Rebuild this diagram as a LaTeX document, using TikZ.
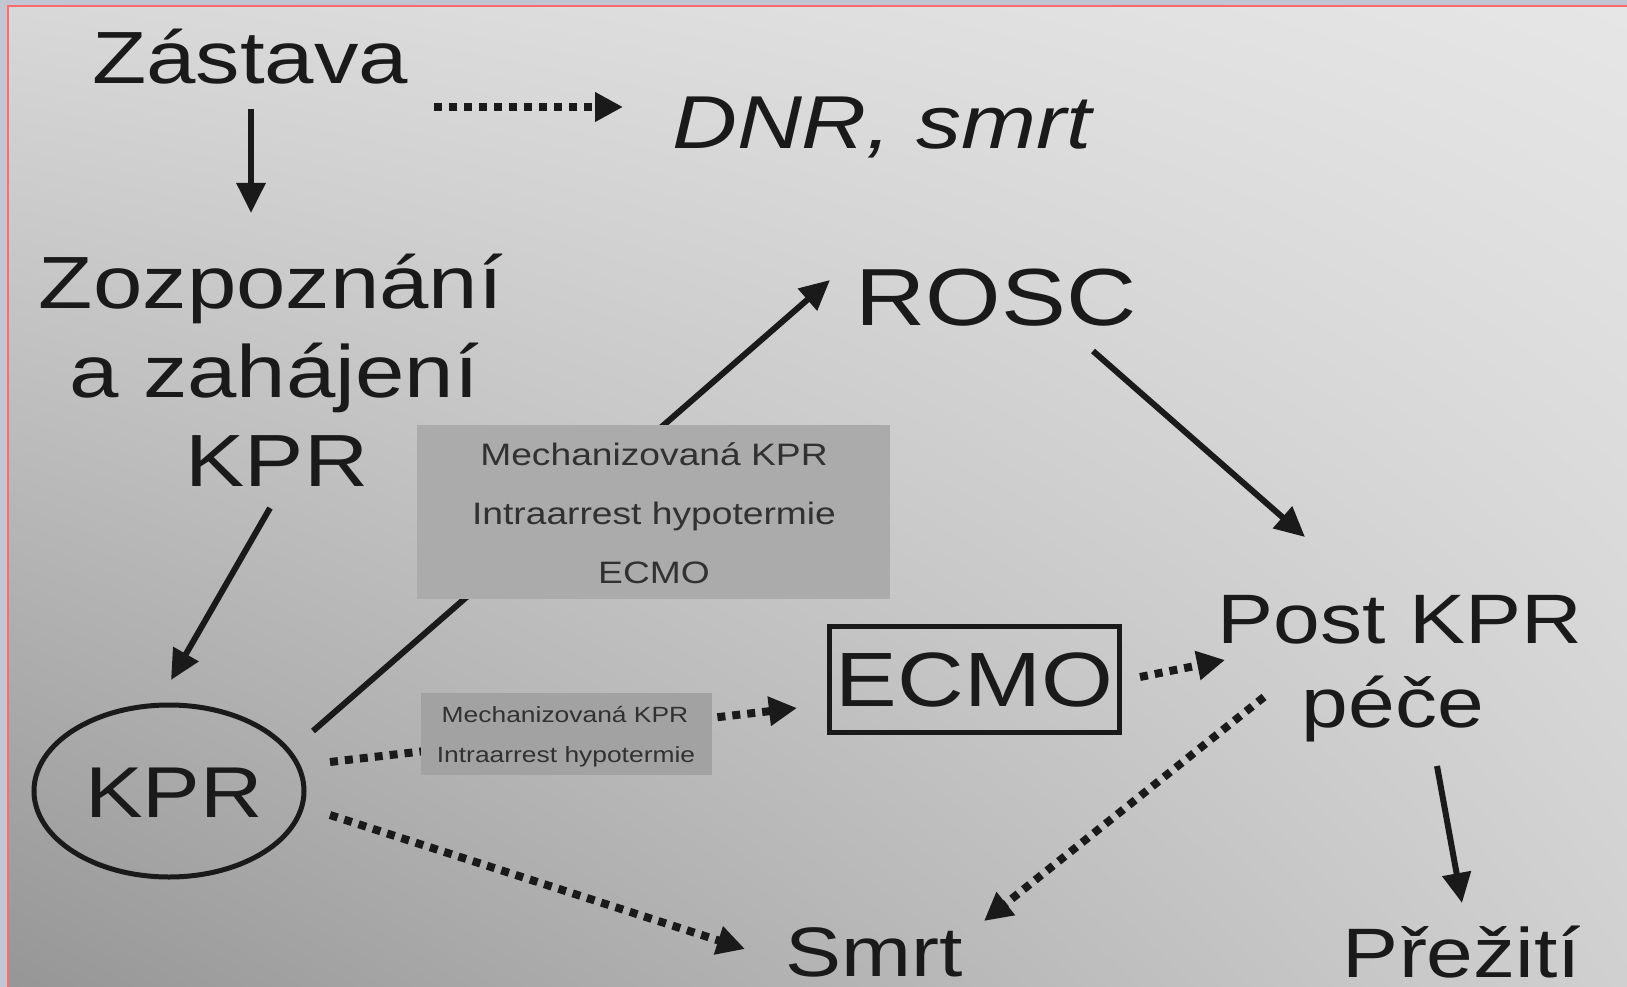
\documentclass[tikz,border=0pt]{standalone}
\usepackage{fontspec}
\setmainfont[FakeStretch=1.2]{Liberation Sans}
\usetikzlibrary{arrows.meta,shapes.geometric,shadings}
\definecolor{framebg}{HTML}{C2C6D2}
\definecolor{framered}{HTML}{FF6A6A}
\definecolor{ink}{HTML}{1A1A1A}
\definecolor{bgUL}{HTML}{D8D8D8}
\definecolor{bgUR}{HTML}{E6E6E6}
\definecolor{bgLL}{HTML}{969696}
\definecolor{bgLR}{HTML}{D0D0D0}
\definecolor{boxA}{HTML}{ABABAB}
\definecolor{boxB}{HTML}{A2A2A2}
\begin{document}
\begin{tikzpicture}[x=1pt,y=-1pt,
  solidarrow/.style={draw=ink, line width=6pt, -{Triangle[length=30pt,width=28pt]}},
  dotarrow/.style={draw=ink, line width=8pt, dash pattern=on 8pt off 7pt, -{Triangle[length=28pt,width=28pt]}},
  lbl/.style={inner sep=0pt, text=ink, anchor=base},
  graybox/.style={inner sep=0pt, draw=none},
  boxtext/.style={inner sep=0pt, text=ink!90, anchor=base},
]
\useasboundingbox (0,0) rectangle (1627,987);
\clip (0,0) rectangle (1627,987);
% frame and background
\fill[framebg] (0,0) rectangle (1627,987);
\shade[upper left=bgUL, upper right=bgUR, lower left=bgLL, lower right=bgLR] (9,7) rectangle (1627,987);
\draw[framered, line width=2pt] (8,987) -- (8,6) -- (1627,6);

% text nodes
\node[lbl, font=\fontsize{74pt}{89pt}\selectfont] (zastava) at (250,84) {Zástava};
\node[lbl, font=\fontsize{75pt}{89pt}\selectfont\itshape] (dnr) at (882,149) {DNR, smrt};
\node[lbl, font=\fontsize{74pt}{89pt}\selectfont] (zoz1) at (271,308) {Zozpoznání};
\node[lbl, font=\fontsize{74pt}{89pt}\selectfont] (zoz2) at (274,397) {a zahájení};
\node[lbl, font=\fontsize{74pt}{89pt}\selectfont] (zoz3) at (277,486) {KPR};
\node[lbl, font=\fontsize{81pt}{89pt}\selectfont] (rosc) at (996,325) {ROSC};
\node[lbl, font=\fontsize{70pt}{84pt}\selectfont] (post1) at (1400,643) {Post KPR};
\node[lbl, font=\fontsize{70pt}{84pt}\selectfont] (post2) at (1393,727) {péče};
\node[lbl, font=\fontsize{70pt}{84pt}\selectfont] (prezit) at (1462,977) {Přežití};
\node[lbl, font=\fontsize{70pt}{84pt}\selectfont] (smrt) at (874,976) {Smrt};

% KPR ellipse and ECMO box
\node[draw=ink, line width=5pt, ellipse, minimum width=270pt, minimum height=172pt, inner sep=0pt] (kpr) at (169,791) {};
\node[lbl, font=\fontsize{72pt}{84pt}\selectfont] (kprtext) at (174,817) {KPR};
\node[draw=ink, line width=5pt, rectangle, minimum width=290pt, minimum height=106pt, inner sep=0pt,
      text=ink, font=\fontsize{77pt}{84pt}\selectfont] (ecmo) at (974.5,679.5) {ECMO};

% connector end points
\coordinate (a1s) at (251,109);  \coordinate (a1e) at (251,213);
\coordinate (a2s) at (434,107);  \coordinate (a2e) at (623,107);
\coordinate (a3s) at (270,508);  \coordinate (a3e) at (171,680);
\coordinate (a4s) at (313,731);  \coordinate (a4e) at (830,280);
\coordinate (a5s) at (1093,351); \coordinate (a5e) at (1305,537);
\coordinate (a6s) at (1437,766); \coordinate (a6e) at (1462,903);
\coordinate (a7s) at (330,762);  \coordinate (a7e) at (797,708);
\coordinate (a8s) at (1140,677); \coordinate (a8e) at (1225,660);
\coordinate (a9s) at (330,815);  \coordinate (a9e) at (745,949);
\coordinate (a10s) at (1264,697); \coordinate (a10e) at (984,921);

% connectors
\draw[solidarrow] (a1s) -- (a1e);
\draw[dotarrow] (a2s) -- (a2e);
\draw[solidarrow] (a3s) -- (a3e);
\draw[solidarrow] (a4s) -- (a4e);
\draw[solidarrow] (a5s) -- (a5e);
\draw[solidarrow] (a6s) -- (a6e);
\draw[dotarrow] (a7s) -- (a7e);
\draw[dotarrow] (a8s) -- (a8e);
\draw[dotarrow] (a9s) -- (a9e);
\draw[dotarrow] (a10s) -- (a10e);

% gray boxes (drawn over the lines passing beneath)
\node[graybox, fill=boxA, minimum width=473pt, minimum height=174pt] (box1) at (653.5,512) {};
\node[boxtext, font=\fontsize{31pt}{59pt}\selectfont] (b1l1) at (654,465) {Mechanizovaná KPR};
\node[boxtext, font=\fontsize{31pt}{59pt}\selectfont] (b1l2) at (654,524) {Intraarrest hypotermie};
\node[boxtext, font=\fontsize{31pt}{59pt}\selectfont] (b1l3) at (654,583) {ECMO};

\node[graybox, fill=boxB, minimum width=291pt, minimum height=82pt] (box2) at (566.5,734) {};
\node[boxtext, font=\fontsize{22pt}{40pt}\selectfont] (b2l1) at (565,722) {Mechanizovaná KPR};
\node[boxtext, font=\fontsize{22pt}{40pt}\selectfont] (b2l2) at (566,762) {Intraarrest hypotermie};
\end{tikzpicture}
\end{document}
